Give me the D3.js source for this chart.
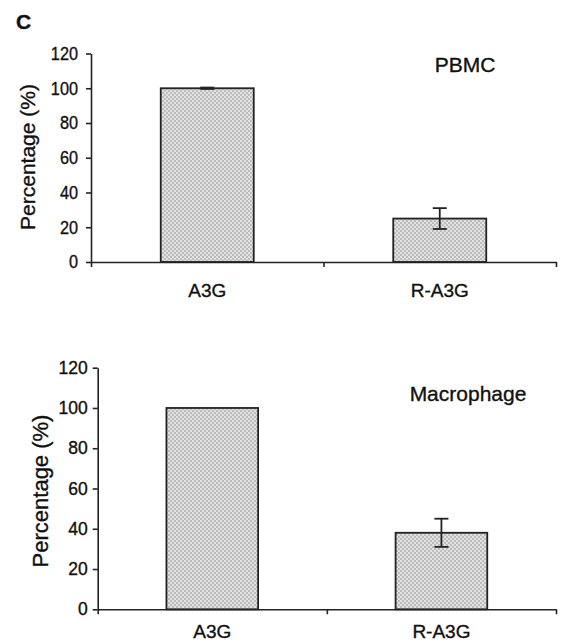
<!DOCTYPE html>
<meta charset="utf-8">
<style>
body { margin: 0; background: #fff; }
svg text { font-family: "Liberation Sans", Arial, sans-serif; fill: #111; stroke: #111; stroke-width: 0.35px; }
.axis path, .axis line { stroke: #222; stroke-width: 1.6px; }
.bar { stroke: #222; stroke-width: 1.8px; }
.err { stroke: #222; stroke-width: 1.8px; }
</style>
<svg width="561" height="642"></svg>
<script src="https://d3js.org/d3.v7.min.js"></script>
<script>

// data
var categories = ["A3G", "R-A3G"];
var pbmcValues = [100, 25];
var pbmcErrors = [0.4, 6];
var macroValues = [100, 38];
var macroErrors = [0, 7];
var yTicks = [0, 20, 40, 60, 80, 100, 120];

var svg = d3.select("svg");

// dotted grey fill
var pat = svg.append("defs").append("pattern")
    .attr("id", "dots")
    .attr("width", 4).attr("height", 4)
    .attr("patternUnits", "userSpaceOnUse");
pat.append("rect").attr("width", 4).attr("height", 4).attr("fill", "#bcbcbc");
pat.append("circle").attr("cx", 1).attr("cy", 1).attr("r", 0.9).attr("fill", "#f4f4f4");
pat.append("circle").attr("cx", 3).attr("cy", 3).attr("r", 0.9).attr("fill", "#f4f4f4");

svg.append("text")
    .attr("x", 16).attr("y", 29)
    .style("font-size", "21px").style("font-weight", "bold")
    .text("C");

// squeeze text horizontally
function squeeze(sel, f) {
  if (f === 1) return;
  sel.each(function() {
    var w = this.getComputedTextLength();
    d3.select(this).attr("textLength", w * f).attr("lengthAdjust", "spacingAndGlyphs");
  });
}

function panel(opts) {
  var x = d3.scaleBand().domain(categories)
      .range([opts.left, opts.right])
      .paddingInner(0.6).paddingOuter(0.3);
  var xb = d3.scaleLinear().domain([0, 2]).range([opts.left, opts.right]);
  var y = d3.scaleLinear().domain([0, 120]).range([opts.bottom, opts.top]);

  var g = svg.append("g");

  g.selectAll("rect.bar")
    .data(opts.values)
    .enter().append("rect")
      .attr("class", "bar")
      .attr("x", function(d, i) { return x(categories[i]); })
      .attr("width", x.bandwidth())
      .attr("y", function(d) { return y(d); })
      .attr("height", function(d) { return y(0) - y(d); })
      .attr("fill", "url(#dots)");

  var err = g.selectAll("g.err")
    .data(opts.values.map(function(v, i) { return {c: categories[i], v: v, e: opts.errors[i]}; })
      .filter(function(d) { return d.e > 0; }))
    .enter().append("g").attr("class", "err");
  err.append("line")
      .attr("x1", function(d) { return x(d.c) + x.bandwidth() / 2; })
      .attr("x2", function(d) { return x(d.c) + x.bandwidth() / 2; })
      .attr("y1", function(d) { return y(d.v + d.e); })
      .attr("y2", function(d) { return y(d.v - d.e); });
  [1, -1].forEach(function(s) {
    err.append("line")
        .attr("x1", function(d) { return x(d.c) + x.bandwidth() / 2 - 7; })
        .attr("x2", function(d) { return x(d.c) + x.bandwidth() / 2 + 7; })
        .attr("y1", function(d) { return y(d.v + s * d.e); })
        .attr("y2", function(d) { return y(d.v + s * d.e); });
  });

  var ya = g.append("g").attr("class", "axis")
      .attr("transform", "translate(" + opts.left + ",0)")
      .call(d3.axisLeft(y).tickValues(yTicks).tickSize(5).tickSizeOuter(0)
        .tickPadding(opts.tickPad));
  ya.attr("font-family", null);
  ya.selectAll("text").style("font-size", opts.tickFont + "px");
  squeeze(ya.selectAll("text"), opts.tickSqueeze);

  g.append("g").attr("class", "axis")
      .attr("transform", "translate(0," + opts.bottom + ")")
      .call(d3.axisBottom(xb).tickValues([0, 1, 2]).tickSize(5).tickSizeOuter(0)
        .tickFormat(""));

  g.selectAll("text.xlab")
    .data(categories)
    .enter().append("text")
      .attr("class", "xlab")
      .attr("x", function(d) { return x(d) + x.bandwidth() / 2; })
      .attr("y", opts.xlabY)
      .attr("text-anchor", "middle")
      .style("font-size", "19px")
      .text(function(d) { return d; });

  g.append("text")
      .attr("transform", "translate(" + opts.yTitleX + "," + opts.yTitleY + ") rotate(-90)")
      .attr("text-anchor", "middle")
      .style("font-size", opts.yTitleFont + "px")
      .text("Percentage (%)");

  g.append("text")
      .attr("x", opts.labelX).attr("y", opts.labelY)
      .attr("text-anchor", "middle")
      .style("font-size", "21px")
      .text(opts.label);
}

panel({
  values: pbmcValues, errors: pbmcErrors, label: "PBMC",
  left: 91, right: 556, top: 53.5, bottom: 262,
  tickPad: 8, tickFont: 18.5, tickSqueeze: 0.88, xlabY: 297,
  yTitleX: 35, yTitleY: 157, yTitleFont: 21,
  labelX: 465, labelY: 72
});

panel({
  values: macroValues, errors: macroErrors, label: "Macrophage",
  left: 97.7, right: 556, top: 367.7, bottom: 609.3,
  tickPad: 5, tickFont: 17.5, tickSqueeze: 1, xlabY: 638,
  yTitleX: 48, yTitleY: 491, yTitleFont: 22,
  labelX: 468, labelY: 401
});

</script>
